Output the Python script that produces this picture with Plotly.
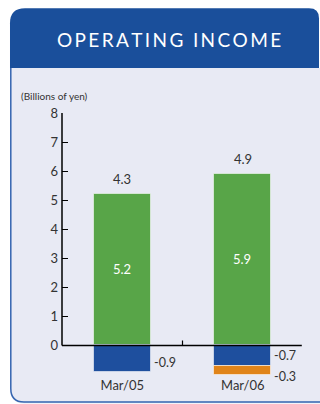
import plotly.graph_objects as go

# ---- data -------------------------------------------------------------
periods = ["Mar/05", "Mar/06"]
gross_income = [5.2, 5.9]          # green segment
adjust_blue = [-0.9, -0.7]         # blue deduction
adjust_orange = [None, -0.3]       # orange deduction (Mar/06 only)
y_tick_values = [0, 1, 2, 3, 4, 5, 6, 7, 8]
title_text = "OPERATING INCOME"
unit_text = "(Billions of yen)"

net_income = [
    round(g + b + (o or 0.0), 1)
    for g, b, o in zip(gross_income, adjust_blue, adjust_orange)
]

# ---- geometry helpers ------------------------------------------------
W, H = 320, 404
L, R, T, B = 62, 17, 113, 27.5
PW, PH = W - L - R, H - T - B
Y_RANGE = [-1.05, 8]
BAR_W = 0.47

GREEN = "#58A548"
BLUE = "#1E4F9E"
ORANGE = "#E08419"
HEADER = "#1A4F9B"
BODY = "#E8EAF4"
BORDER = "#3565B0"
INK = "#333333"
FONT = "Lato"


def fx(px):
    return (px - L) / PW


def fy(py):
    return (H - B - py) / PH


def path(cmds):
    out = []
    for c in cmds:
        if isinstance(c, str):
            out.append(c)
        else:
            out.append(f"{fx(c[0]):.5f},{fy(c[1]):.5f}")
    return " ".join(out)


fig = go.Figure()

fig.add_trace(go.Bar(
    x=periods, y=gross_income, width=BAR_W,
    marker=dict(color=GREEN, line=dict(color="rgba(255,255,255,0.55)", width=1)),
    text=[f"{v:.1f}" for v in gross_income],
    textposition="inside", insidetextanchor="middle", textangle=0,
    textfont=dict(color="white", size=13, family=FONT),
    constraintext="none", hoverinfo="skip",
))
fig.add_trace(go.Bar(
    x=periods, y=adjust_blue, width=BAR_W,
    marker=dict(color=BLUE, line=dict(color="rgba(255,255,255,0.55)", width=1)),
    hoverinfo="skip",
))
fig.add_trace(go.Bar(
    x=periods, y=adjust_orange, width=BAR_W,
    marker=dict(color=ORANGE, line=dict(color="rgba(255,255,255,0.55)", width=1)),
    hoverinfo="skip",
))

shapes = []
# panel body with rounded lower-left corner
shapes.append(dict(
    type="path", xref="paper", yref="paper", layer="below",
    path=path(["M", (10, 68), "L", (322, 68), "L", (322, 404), "L", (24, 404),
               "Q", (10, 404), (10, 389), "Z"]),
    fillcolor=BODY, line=dict(width=0),
))
# panel outline (left and bottom)
shapes.append(dict(
    type="path", xref="paper", yref="paper", layer="below",
    path=path(["M", (10.8, 60), "L", (10.8, 389), "Q", (10.8, 402.6), (24, 402.6),
               "L", (322, 402.6)]),
    line=dict(color=BORDER, width=1.5),
))
# header band
shapes.append(dict(
    type="path", xref="paper", yref="paper", layer="below",
    path=path(["M", (10, 68), "L", (10, 23), "Q", (10, 8), (25, 8), "L", (309, 8),
               "Q", (319, 8), (319, 18), "L", (319, 68), "Z"]),
    fillcolor=HEADER, line=dict(width=0),
))
# vertical axis line from 0 to 8
shapes.append(dict(
    type="line", xref="paper", yref="y", x0=0, x1=0,
    y0=y_tick_values[0], y1=y_tick_values[-1],
    line=dict(color="black", width=1.5), layer="above",
))
# horizontal baseline at zero
shapes.append(dict(
    type="line", xref="paper", yref="y", x0=0, x1=0.995, y0=0, y1=0,
    line=dict(color="black", width=1.5), layer="above",
))
# divider tick between the two periods
shapes.append(dict(
    type="line", xref="x", yref="y", x0=0.5, x1=0.5,
    ysizemode="pixel", yanchor=0, y0=0, y1=5,
    line=dict(color="black", width=1.2), layer="above",
))

annotations = []
spaced_title = "\u200a\u200a".join(title_text)
annotations.append(dict(
    xref="paper", yref="paper", x=fx(168.5), y=fy(39),
    text=spaced_title, showarrow=False, xanchor="center", yanchor="middle",
    font=dict(color="white", size=19, family=FONT),
))
annotations.append(dict(
    xref="paper", yref="paper", x=fx(19), y=fy(96),
    text=unit_text, showarrow=False, xanchor="left", yanchor="middle",
    font=dict(color=INK, size=10, family=FONT),
))
# net totals above the bars
for i, (g, n) in enumerate(zip(gross_income, net_income)):
    annotations.append(dict(
        xref="x", yref="y", x=i, y=g, text=f"{n:.1f}", showarrow=False,
        xanchor="center", yanchor="bottom", yshift=5,
        font=dict(color=INK, size=13, family=FONT),
    ))
# deduction labels to the right of each bar
for i, (b, o) in enumerate(zip(adjust_blue, adjust_orange)):
    annotations.append(dict(
        xref="x", yref="y", x=i + BAR_W / 2, y=b / 2, text=f"{b:.1f}",
        showarrow=False, xanchor="left", yanchor="middle", xshift=1,
        yshift=-4 if o is None else 0,
        font=dict(color=INK, size=12.5, family=FONT),
    ))
    if o is not None:
        annotations.append(dict(
            xref="x", yref="y", x=i + BAR_W / 2, y=b + o / 2, text=f"{o:.1f}",
            showarrow=False, xanchor="left", yanchor="middle", xshift=1, yshift=-6,
            font=dict(color=INK, size=12.5, family=FONT),
        ))

fig.update_layout(
    width=W, height=H, autosize=False,
    margin=dict(l=L, r=R, t=T, b=B, pad=0),
    paper_bgcolor="white", plot_bgcolor="rgba(0,0,0,0)",
    barmode="relative", bargap=0, showlegend=False,
    shapes=shapes, annotations=annotations,
    font=dict(family=FONT, color=INK),
    xaxis=dict(
        type="category", range=[-0.5, 1.5], showline=False, showgrid=False,
        zeroline=False, ticks="", tickfont=dict(size=13, color=INK, family=FONT),
        fixedrange=True,
    ),
    yaxis=dict(
        range=Y_RANGE, tickvals=y_tick_values, ticks="inside", ticklen=6,
        tickwidth=1.3, tickcolor="black", showline=False, showgrid=False,
        zeroline=False, tickfont=dict(size=13, color=INK, family=FONT),
        ticklabelstandoff=3, fixedrange=True,
    ),
)

fig.write_html("out.html", config={"displayModeBar": False})
